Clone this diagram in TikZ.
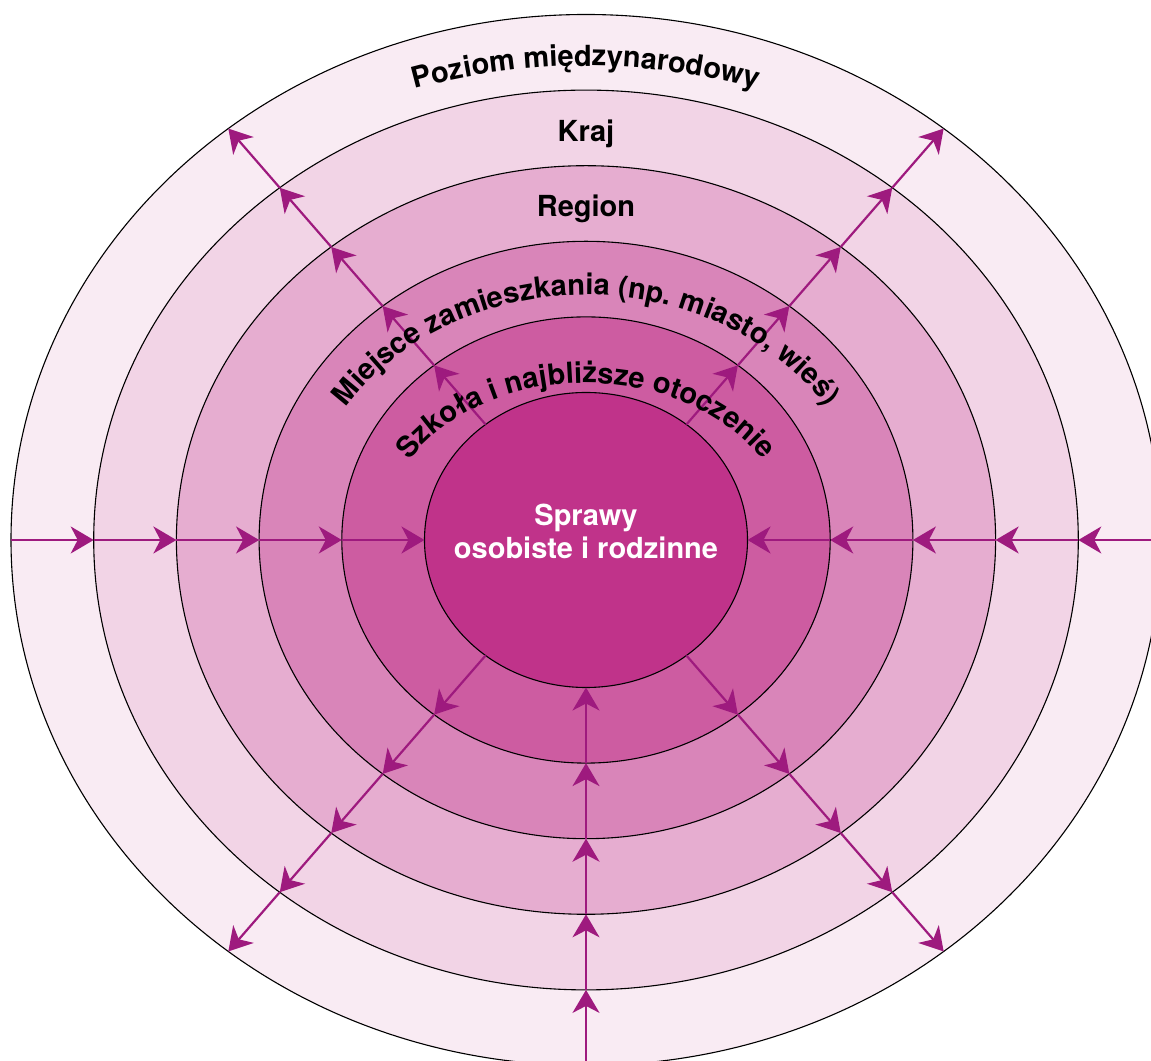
\documentclass[tikz,border=0pt]{standalone}
\usepackage{fontspec}
\setmainfont{TeX Gyre Heros}
\usetikzlibrary{shapes.geometric,arrows.meta,decorations.text}
\definecolor{mag}{RGB}{192,51,138}
\colorlet{c1}{mag!10!white}
\colorlet{c2}{mag!21!white}
\colorlet{c3}{mag!40!white}
\colorlet{c4}{mag!60!white}
\colorlet{c5}{mag!80!white}
\colorlet{c6}{mag}
\definecolor{arrc}{RGB}{158,26,126}
\newcommand{\labfont}{\bfseries\fontsize{29}{34}\selectfont}
\begin{document}
\begin{tikzpicture}[x=1pt,y=1pt,
  ring/.style={ellipse, draw=black, line width=1.1pt, inner sep=0pt, outer sep=0pt},
  arr/.style={draw=arrc, line width=2.2pt, -{Stealth[length=23pt,width=27pt,inset=7pt]}},
  lab/.style={font=\labfont, text=black, inner sep=0pt, anchor=base},
  wlab/.style={font=\labfont, text=white, inner sep=0pt, anchor=base},
  arctext/.style={decorate, decoration={text along path, text align=center, text={|\labfont|#1}}}]
\useasboundingbox (0,0) rectangle (1151,1060);
\clip (0,0) rectangle (1151,1060);
\coordinate (C) at (586,520);
\node[ring, fill=c1, minimum width=1150pt, minimum height=1051pt] (e1) at (C) {};
\node[ring, fill=c2, minimum width=984.6pt, minimum height=899.8pt] (e2) at (C) {};
\node[ring, fill=c3, minimum width=819.2pt, minimum height=748.6pt] (e3) at (C) {};
\node[ring, fill=c4, minimum width=653.8pt, minimum height=597.4pt] (e4) at (C) {};
\node[ring, fill=c5, minimum width=488.4pt, minimum height=446.2pt] (e5) at (C) {};
\node[ring, fill=c6, minimum width=323pt, minimum height=295pt] (e6) at (C) {};
% inward arrows
\foreach \a in {0,180,270}{
  \draw[arr] (e1.\a) -- (e2.\a);
  \draw[arr] (e2.\a) -- (e3.\a);
  \draw[arr] (e3.\a) -- (e4.\a);
  \draw[arr] (e4.\a) -- (e5.\a);
  \draw[arr] (e5.\a) -- (e6.\a);
}
% outward arrows
\foreach \a in {49,131,229,311}{
  \draw[arr] (e6.\a) -- (e5.\a);
  \draw[arr] (e5.\a) -- (e4.\a);
  \draw[arr] (e4.\a) -- (e3.\a);
  \draw[arr] (e3.\a) -- (e2.\a);
  \draw[arr] (e2.\a) -- (e1.\a);
}
% labels
\path[arctext={Poziom międzynarodowy}] ([shift={(586,344)}]120:650) arc[start angle=120, end angle=60, radius=650];
\node[lab] (kraj) at (586,918) {Kraj};
\node[lab] (region) at (586,843) {Region};
\path[arctext={Miejsce zamieszkania (np. miasto, wieś)}] ([shift={(586,520)}]200:286 and 245) arc[start angle=200, end angle=-20, x radius=286, y radius=245];
\path[arctext={Szkoła i najbliższe otoczenie}] ([shift={(586,520)}]200:205 and 157) arc[start angle=200, end angle=-20, x radius=205, y radius=157];
\node[wlab] (s1) at (586,534) {Sprawy};
\node[wlab] (s2) at (586,501) {osobiste i rodzinne};
\end{tikzpicture}
\end{document}
